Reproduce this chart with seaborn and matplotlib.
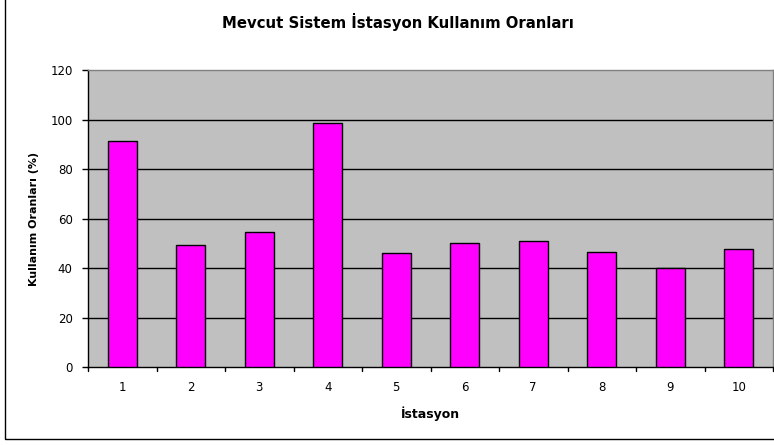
import matplotlib
matplotlib.use("Agg")
import matplotlib.pyplot as plt
import matplotlib.patches as mpatches
import pandas as pd
import seaborn as sns

# ── Data ──────────────────────────────────────────────────────────────────────
stations = ["1", "2", "3", "4", "5", "6", "7", "8", "9", "10"]
usage_pct = [91.4, 49.5, 54.5, 98.5, 46.2, 50.3, 50.8, 46.7, 40.2, 47.6]
y_ticks = [0, 20, 40, 60, 80, 100, 120]

title = "Mevcut Sistem İstasyon Kullanım Oranları"
x_label = "İstasyon"
y_label = "Kullanım Oranları (%)"

df = pd.DataFrame({"station": stations, "usage": usage_pct})

sns.set_style("white")
plt.rcParams["font.family"] = ["DejaVu Sans"]
plt.rcParams["text.color"] = "black"
plt.rcParams["axes.labelcolor"] = "black"
plt.rcParams["xtick.color"] = "black"
plt.rcParams["ytick.color"] = "black"

fig = plt.figure(figsize=(7.74, 4.45), dpi=100)
ax = fig.add_axes([88 / 774, 1 - 367.3 / 445, 685 / 774, 297.3 / 445])
ax.set_facecolor("#C0C0C0")

sns.barplot(data=df, x="station", y="usage", ax=ax, color="#FF00FF",
            saturation=1, width=0.42, edgecolor="black", linewidth=1, zorder=3)

ax.set_ylim(0, 120)
ax.set_xlim(-0.5, len(stations) - 0.5)
ax.set_yticks(y_ticks)
ax.set_yticklabels([str(t) for t in y_ticks], fontsize=8.5)
ax.set_xticks(range(len(stations)))
ax.set_xticklabels(stations, fontsize=8.5)

# gridlines (black) for the inner values
for t in y_ticks[1:-1]:
    ax.axhline(t, color="black", linewidth=1, zorder=1)

# category boundary ticks on x axis
ax.tick_params(axis="x", length=0, pad=10)
for b in range(len(stations) + 1):
    ax.plot([b - 0.5, b - 0.5], [0, -1.6], color="black", lw=1,
            clip_on=False, zorder=4)
ax.tick_params(axis="y", direction="out", length=4, width=1, left=True, pad=7)

for side in ["top", "right"]:
    ax.spines[side].set_color("#808080")
    ax.spines[side].set_linewidth(1)
ax.spines["left"].set_color("black")
ax.spines["bottom"].set_color("black")
ax.spines["left"].set_linewidth(1)
ax.spines["bottom"].set_linewidth(1)

ax.set_xlabel(x_label, fontsize=9, fontweight="bold", labelpad=9)
ax.set_ylabel(y_label, fontsize=8, fontweight="bold", labelpad=8)
fig.text(398 / 774, 1 - 22 / 445, title, ha="center", va="center",
         fontsize=10.7, fontweight="bold")

# outer chart frame
fig.patches.append(mpatches.Rectangle((5 / 774, 6 / 445), 1.0, 1.0,
                                      transform=fig.transFigure, fill=False,
                                      edgecolor="black", linewidth=1))

fig.savefig("out.png", dpi=100)
